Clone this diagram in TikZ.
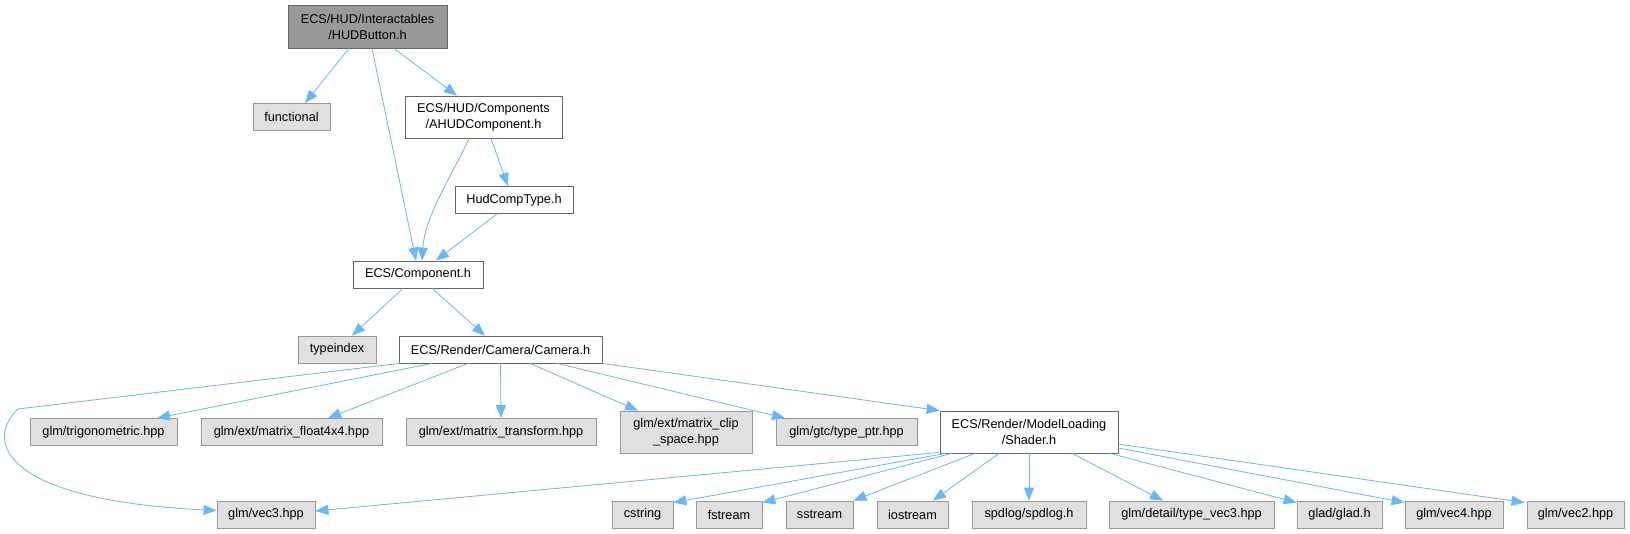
\documentclass[tikz,border=0pt]{standalone}
\usepackage{fontspec}
\setmainfont{Liberation Sans}
\usetikzlibrary{arrows.meta}
\definecolor{edgeblue}{HTML}{63B8FF}
\definecolor{leaffill}{HTML}{E0E0E0}
\definecolor{leafdraw}{HTML}{999999}
\definecolor{boxdraw}{HTML}{666666}
\definecolor{mainfill}{HTML}{999999}
\begin{document}
\begin{tikzpicture}[x=1pt,y=-1pt,
  base/.style={rectangle, inner sep=0pt, font=\fontsize{12.7}{16}\selectfont, align=center, line width=0.8pt, minimum height=27pt},
  leaf/.style={base, fill=leaffill, draw=leafdraw},
  inc/.style={base, fill=white, draw=boxdraw},
  mainbox/.style={base, fill=mainfill, draw=boxdraw},
  dep/.style={draw=edgeblue, line width=0.8pt, -{Triangle[length=13pt,width=10pt]}}]
\fill[white] (0,0) rectangle (1630,533);
\useasboundingbox (0,0) rectangle (1630,533);
% nodes
\node[mainbox, minimum width=159pt, minimum height=43pt] (btn) at (367.5,26.5) {ECS/HUD/Interactables\\/HUDButton.h};
\node[leaf, minimum width=77pt] (func) at (291.5,117) {functional};
\node[inc, minimum width=157pt, minimum height=42pt] (ahud) at (483.5,117) {ECS/HUD/Components\\/AHUDComponent.h};
\node[inc, minimum width=118pt] (hud) at (514,200) {HudCompType.h};
\node[inc, minimum width=130pt] (comp) at (418,274.5) {ECS/Component.h};
\node[leaf, minimum width=78pt] (tidx) at (337,349.5) {typeindex};
\node[inc, minimum width=203pt] (cam) at (500.5,349.5) {ECS/Render/Camera/Camera.h};
\node[leaf, minimum width=147pt] (trig) at (103.5,432) {glm/trigonometric.hpp};
\node[leaf, minimum width=181pt] (ff) at (291.5,432) {glm/ext/matrix\_float4x4.hpp};
\node[leaf, minimum width=190pt] (mt) at (501,432) {glm/ext/matrix\_transform.hpp};
\node[leaf, minimum width=132pt, minimum height=42pt] (clip) at (686,432) {glm/ext/matrix\_clip\\\_space.hpp};
\node[leaf, minimum width=141pt] (ptr) at (846.5,432) {glm/gtc/type\_ptr.hpp};
\node[inc, minimum width=178pt, minimum height=42pt] (shader) at (1029,432) {ECS/Render/ModelLoading\\/Shader.h};
\node[leaf, minimum width=98pt] (vthree) at (266,514.5) {glm/vec3.hpp};
\node[leaf, minimum width=61pt] (cstr) at (642.5,514.5) {cstring};
\node[leaf, minimum width=66pt] (fstr) at (729,514.5) {fstream};
\node[leaf, minimum width=67pt] (sstr) at (819.5,514.5) {sstream};
\node[leaf, minimum width=71pt] (iostr) at (912.5,514.5) {iostream};
\node[leaf, minimum width=114pt] (spd) at (1029,514.5) {spdlog/spdlog.h};
\node[leaf, minimum width=165pt] (tv) at (1191.5,514.5) {glm/detail/type\_vec3.hpp};
\node[leaf, minimum width=85pt] (glad) at (1339.5,514.5) {glad/glad.h};
\node[leaf, minimum width=98pt] (vfour) at (1454,514.5) {glm/vec4.hpp};
\node[leaf, minimum width=97pt] (vtwo) at (1575.5,514.5) {glm/vec2.hpp};
\coordinate (bend) at (18,409);
% edges
\draw[dep] ([xshift=-18.5pt]btn.south) -- ([xshift=13.5pt]func.north);
\draw[dep] ([xshift=4.5pt]btn.south) -- ([xshift=-2pt]comp.north);
\draw[dep] ([xshift=26.5pt]btn.south) -- ([xshift=-26.5pt]ahud.north);
\draw[dep] ([xshift=-14.5pt]ahud.south) .. controls +(-14,32) and +(3,-46) .. ([xshift=4pt]comp.north);
\draw[dep] ([xshift=7.5pt]ahud.south) -- ([xshift=-6pt]hud.north);
\draw[dep] ([xshift=-17pt]hud.south) -- ([xshift=18pt]comp.north);
\draw[dep] ([xshift=-15pt]comp.south) -- ([xshift=15pt]tidx.north);
\draw[dep] ([xshift=14pt]comp.south) -- ([xshift=-15.5pt]cam.north);
\draw[dep] ([xshift=1pt]cam.south west) -- (bend) .. controls (-15,440) and (0,500) .. ([yshift=4pt]vthree.west);
\draw[dep] ([xshift=-68.5pt]cam.south) -- ([xshift=53.5pt]trig.north);
\draw[dep] ([xshift=-32.5pt]cam.south) -- ([xshift=36.5pt]ff.north);
\draw[dep] (cam.south) -- (mt.north);
\draw[dep] ([xshift=29.5pt]cam.south) -- ([xshift=-48pt]clip.north);
\draw[dep] ([xshift=56.5pt]cam.south) -- ([xshift=-61.5pt]ptr.north);
\draw[dep] (cam.south east) -- (shader.north west);
\draw[dep] ([yshift=1pt]shader.south west) -- ([yshift=3.5pt]vthree.east);
\draw[dep] ([xshift=6pt]shader.south west) -- ([yshift=-2pt]cstr.north east);
\draw[dep] ([xshift=12pt]shader.south west) -- ([yshift=-2pt]fstr.north east);
\draw[dep] ([xshift=-54pt]shader.south) -- (sstr.north east);
\draw[dep] ([xshift=-30pt]shader.south) -- ([xshift=20.5pt]iostr.north);
\draw[dep] (shader.south) -- (spd.north);
\draw[dep] ([xshift=43pt]shader.south) -- ([xshift=-28.5pt]tv.north);
\draw[dep] ([xshift=81pt]shader.south) -- ([yshift=-2pt]glad.north west);
\draw[dep] ([yshift=-16pt]shader.east) -- ([yshift=-2pt]vfour.north west);
\draw[dep] ([yshift=-12pt]shader.east) -- ([xshift=-2pt,yshift=-2pt]vtwo.north west);
\end{tikzpicture}
\end{document}
